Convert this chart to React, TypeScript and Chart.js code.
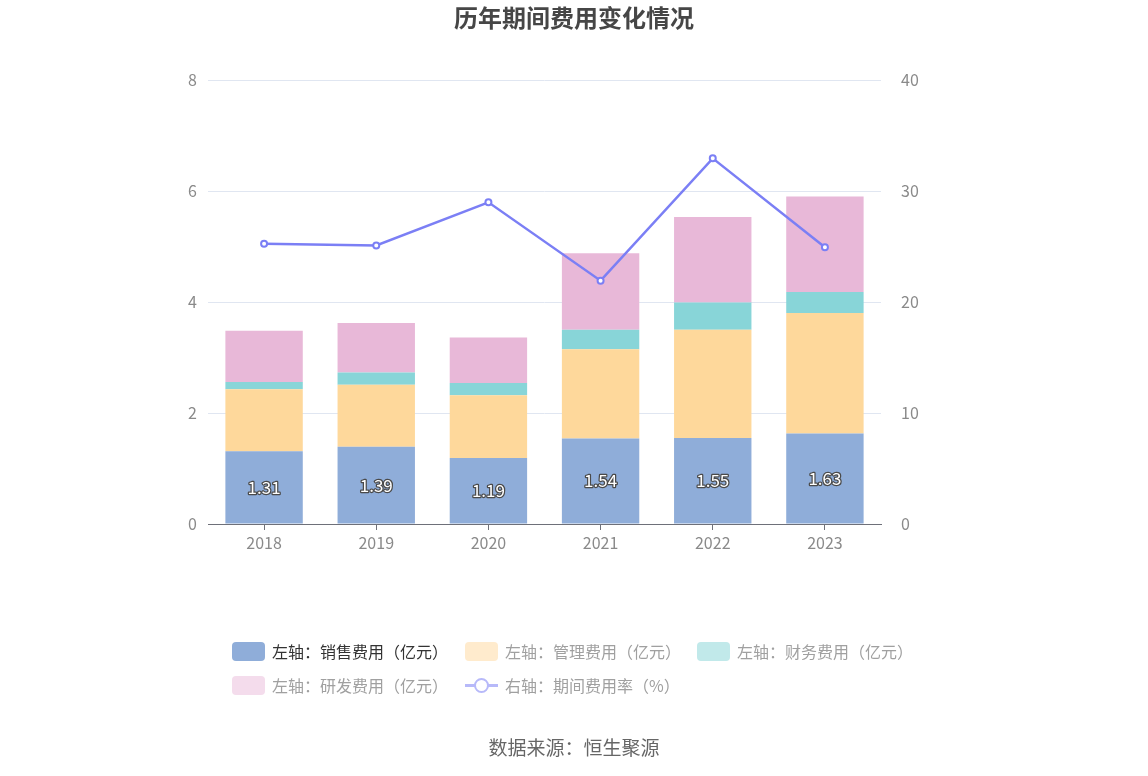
import { useRef, useEffect } from "react"
import { Chart, registerables } from "chart.js"

Chart.register(...registerables)

// data
const years = ["2018", "2019", "2020", "2021", "2022", "2023"]
const salesCost = [1.31, 1.39, 1.19, 1.54, 1.55, 1.63]
const adminCost = [1.12, 1.12, 1.13, 1.61, 1.95, 2.17]
const financeCost = [0.13, 0.22, 0.22, 0.35, 0.49, 0.38]
const rdCost = [0.92, 0.89, 0.82, 1.38, 1.54, 1.72]
const expenseRate = [25.25, 25.1, 28.98, 21.92, 32.94, 24.93]

const leftTicks = [0, 2, 4, 6, 8]
const rightTicks = [0, 10, 20, 30, 40]

const fontFamily = "'Noto Sans CJK SC', 'Noto Sans', sans-serif"

// white numbers with a dark outline inside the blue (sales) segments
const barLabels = {
  id: "barLabels",
  afterDatasetsDraw(chart: any) {
    const ctx = chart.ctx
    const meta = chart.getDatasetMeta(1)
    ctx.save()
    ctx.font = `17px ${fontFamily}`
    ctx.textAlign = "center"
    ctx.textBaseline = "middle"
    ctx.lineJoin = "round"
    meta.data.forEach((bar: any, i: number) => {
      const y = (bar.y + bar.base) / 2
      ctx.lineWidth = 2.5
      ctx.strokeStyle = "#4a4a4a"
      ctx.strokeText(salesCost[i].toFixed(2), bar.x, y)
      ctx.fillStyle = "#ffffff"
      ctx.fillText(salesCost[i].toFixed(2), bar.x, y)
    })
    ctx.restore()
  },
}

function StackedChart() {
  const chartRef = useRef<HTMLCanvasElement>(null)
  const chartInstance = useRef<Chart | null>(null)

  useEffect(() => {
    if (!chartRef.current) return
    if (chartInstance.current) chartInstance.current.destroy()

    const ctx = chartRef.current.getContext("2d")
    if (!ctx) return

    chartInstance.current = new Chart(ctx, {
      type: "bar",
      data: {
        labels: years,
        datasets: [
          { type: "line", label: "右轴：期间费用率（%）", data: expenseRate, yAxisID: "y1", stack: "rate",
            borderColor: "#7b7ff5", borderWidth: 2.5, backgroundColor: "#ffffff",
            pointRadius: 3, pointBorderWidth: 2, pointBorderColor: "#7b7ff5", pointBackgroundColor: "#ffffff",
            tension: 0, order: 0 },
          { label: "左轴：销售费用（亿元）", data: salesCost, backgroundColor: "#8fadd9", stack: "cost", order: 1 },
          { label: "左轴：管理费用（亿元）", data: adminCost, backgroundColor: "#fed89b", stack: "cost", order: 1 },
          { label: "左轴：财务费用（亿元）", data: financeCost, backgroundColor: "#88d5d8", stack: "cost", order: 1 },
          { label: "左轴：研发费用（亿元）", data: rdCost, backgroundColor: "#e8b8d8", stack: "cost", order: 1 },
        ] as any,
      },
      options: {
        responsive: true,
        maintainAspectRatio: false,
        animation: false,
        layout: { padding: { left: 168, right: 222, top: 80, bottom: 222 } },
        datasets: { bar: { barPercentage: 0.69, categoryPercentage: 1 } },
        plugins: {
          legend: { display: false },
          tooltip: { enabled: false },
        },
        scales: {
          x: {
            stacked: true,
            grid: { display: true, drawOnChartArea: false, offset: false, tickLength: 6, color: "#6e7079" },
            border: { color: "#6e7079", width: 1 },
            ticks: { color: "#8a8a8a", font: { size: 16, family: fontFamily }, padding: 3 },
            afterFit: (s: any) => { s.height = 30 },
          },
          y: {
            stacked: true,
            min: 0,
            max: 8,
            afterBuildTicks: (s: any) => { s.ticks = leftTicks.map((v) => ({ value: v })) },
            grid: { color: "#e0e6f1", drawTicks: false },
            border: { display: false },
            ticks: { color: "#8a8a8a", font: { size: 16, family: fontFamily }, padding: 11 },
            afterFit: (s: any) => { s.width = 40 },
          },
          y1: {
            position: "right",
            min: 0,
            max: 40,
            afterBuildTicks: (s: any) => { s.ticks = rightTicks.map((v) => ({ value: v })) },
            grid: { display: false },
            border: { display: false },
            ticks: { color: "#8a8a8a", font: { size: 16, family: fontFamily }, padding: 12 },
            afterFit: (s: any) => { s.width = 45 },
          },
        },
      } as any,
      plugins: [barLabels],
    })

    return () => {
      if (chartInstance.current) {
        chartInstance.current.destroy()
        chartInstance.current = null
      }
    }
  }, [])

  return <canvas ref={chartRef} />
}

function LegendItem({ left, top, color, text, textColor, line }: any) {
  return (
    <div style={{ position: "absolute", left, top, display: "flex", alignItems: "center", height: 20 }}>
      {line ? (
        <div style={{ position: "relative", width: 33, height: 20 }}>
          <div style={{ position: "absolute", left: 0, top: 9, width: 33, height: 2.5, background: color }} />
          <div style={{ position: "absolute", left: 9, top: 2.5, width: 11, height: 11, borderRadius: "50%",
            border: `2.5px solid ${color}`, background: "#fff" }} />
        </div>
      ) : (
        <div style={{ width: 33, height: 19, borderRadius: 4, background: color }} />
      )}
      <span style={{ marginLeft: 7, fontSize: 16, color: textColor, whiteSpace: "nowrap" }}>{text}</span>
    </div>
  )
}

export default function App() {
  useEffect(() => {
    document.body.style.margin = "0"
  }, [])

  return (
    <div style={{ position: "absolute", left: 0, top: 0, width: 1148, height: 776, background: "#fff",
      fontFamily, overflow: "hidden" }}>
      <div style={{ position: "absolute", left: 0, top: 0, width: 1148, height: 776 }}>
        <StackedChart />
      </div>
      <div style={{ position: "absolute", left: 0, top: -1, width: 1148, textAlign: "center", fontSize: 24,
        fontWeight: "bold", color: "#464646" }}>历年期间费用变化情况</div>
      <LegendItem left={232} top={641} color="#8fadd9" text="左轴：销售费用（亿元）" textColor="#333" />
      <LegendItem left={465} top={641} color="#ffebcd" text="左轴：管理费用（亿元）" textColor="#a0a0a0" />
      <LegendItem left={697} top={641} color="#c1e9ea" text="左轴：财务费用（亿元）" textColor="#a0a0a0" />
      <LegendItem left={232} top={675} color="#f4dcec" text="左轴：研发费用（亿元）" textColor="#a0a0a0" />
      <LegendItem left={465} top={675} color="#b7b9f9" text="右轴：期间费用率（%）" textColor="#a0a0a0" line />
      <div style={{ position: "absolute", left: 0, top: 733, width: 1148, textAlign: "center", fontSize: 19,
        color: "#666" }}>数据来源：恒生聚源</div>
    </div>
  )
}
